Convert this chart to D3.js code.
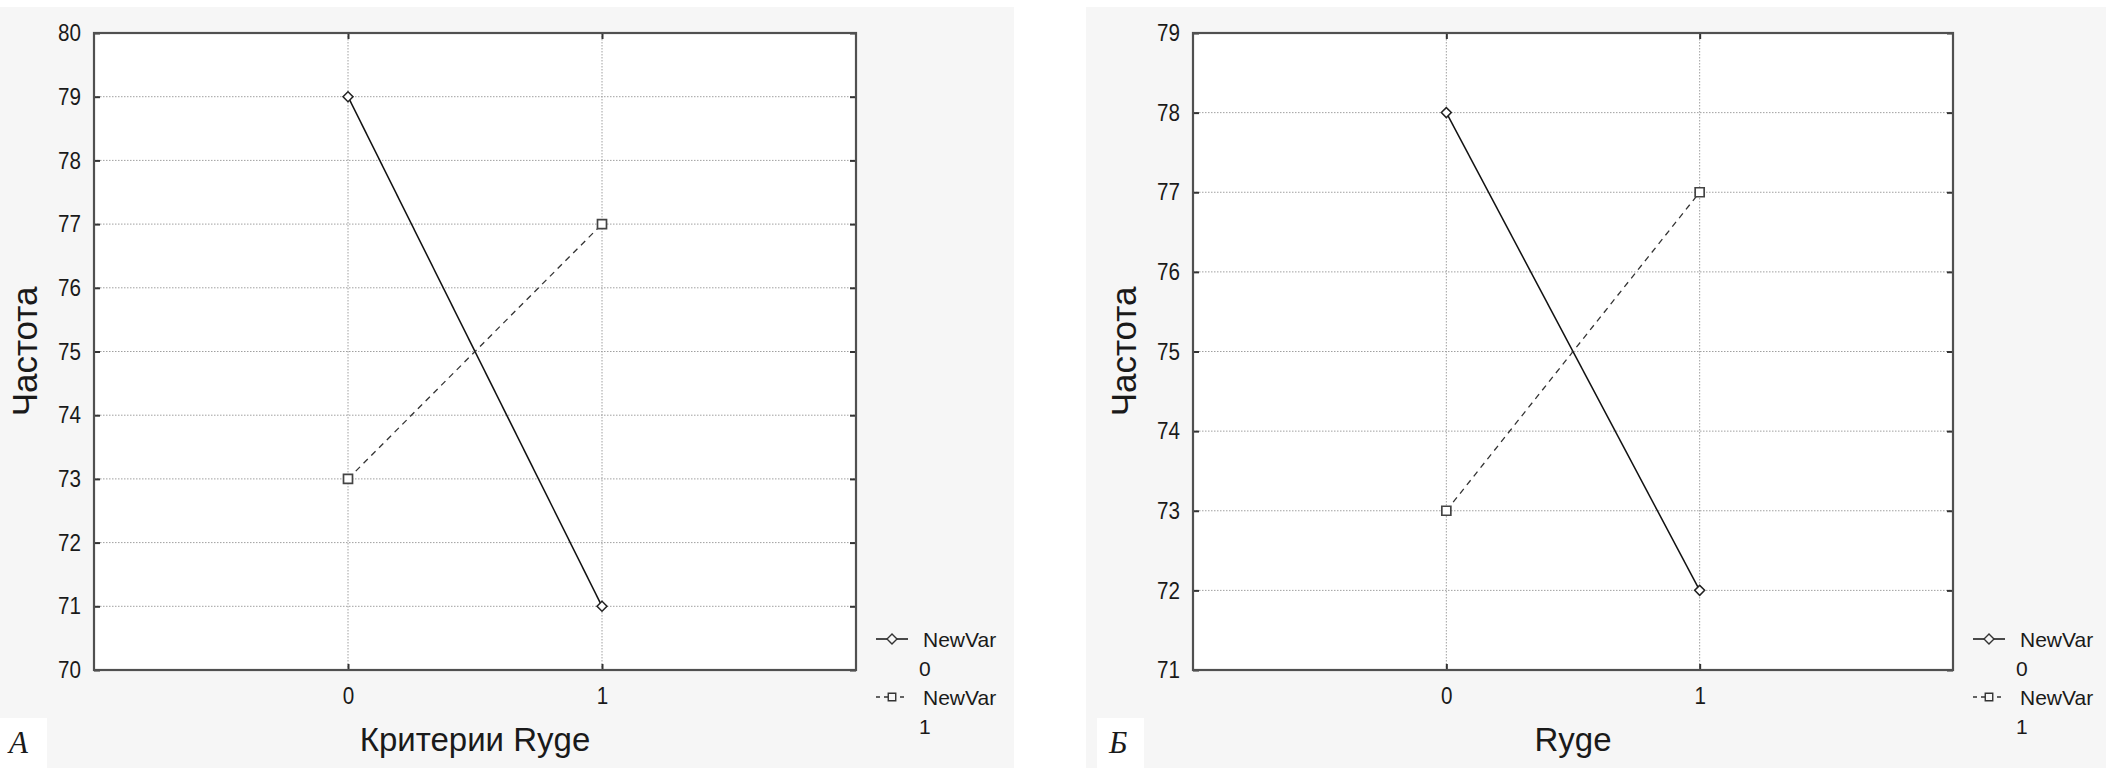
<!DOCTYPE html>
<html>
<head>
<meta charset="utf-8">
<script src="https://cdn.jsdelivr.net/npm/d3@7"></script>
<style>
  html, body { margin: 0; padding: 0; background: #ffffff; }
  svg { display: block; }
  text { font-family: "Liberation Sans", Arial, sans-serif; fill: #1a1a1a; }
</style>
</head>
<body>
<svg id="chart" width="2106" height="768"></svg>
<script>
// ---- data ----
const categories = [0, 1];
const seriesNames = ["NewVar\n0", "NewVar\n1"];
const panelA_newVar0 = [79, 71];
const panelA_newVar1 = [73, 77];
const panelB_newVar0 = [78, 72];
const panelB_newVar1 = [73, 77];
const panelA_yTicks = [70, 71, 72, 73, 74, 75, 76, 77, 78, 79, 80];
const panelB_yTicks = [71, 72, 73, 74, 75, 76, 77, 78, 79];
const xTicks = [0, 1];
const panelLabels = ["А", "Б"];
const xTitles = ["Критерии Ryge", "Ryge"];
const yTitle = "Частота";

const svg = d3.select("#chart");

function drawPanel(cfg) {
  const g = svg.append("g");
  g.append("rect").attr("x", cfg.bgX).attr("y", 7).attr("width", cfg.bgW).attr("height", 761)
    .attr("fill", "#f6f6f6");

  const x = d3.scaleLinear().domain([-1, 2]).range([cfg.left, cfg.right]);
  const y = d3.scaleLinear().domain(cfg.yDomain).range([cfg.bottom, cfg.top]);

  g.append("rect").attr("x", cfg.left).attr("y", cfg.top)
    .attr("width", cfg.right - cfg.left).attr("height", cfg.bottom - cfg.top)
    .attr("fill", "#ffffff");

  const inner = cfg.yTicks.filter(v => v > cfg.yDomain[0] && v < cfg.yDomain[1]);
  g.selectAll(".hg").data(inner).enter().append("line")
    .attr("x1", cfg.left).attr("x2", cfg.right)
    .attr("y1", d => y(d)).attr("y2", d => y(d))
    .attr("stroke", "#a0a0a0").attr("stroke-width", 1).attr("stroke-dasharray", "1.5,1.5");
  g.selectAll(".vg").data(xTicks).enter().append("line")
    .attr("x1", d => x(d)).attr("x2", d => x(d))
    .attr("y1", cfg.top).attr("y2", cfg.bottom)
    .attr("stroke", "#a0a0a0").attr("stroke-width", 1).attr("stroke-dasharray", "1.5,1.5");

  const yL = g.append("g").attr("transform", `translate(${cfg.left},0)`)
    .call(d3.axisLeft(y).tickValues(cfg.yTicks).tickFormat(d3.format("d")).tickSizeInner(-6).tickSizeOuter(0).tickPadding(13));
  const yR = g.append("g").attr("transform", `translate(${cfg.right},0)`)
    .call(d3.axisRight(y).tickValues(cfg.yTicks).tickFormat("").tickSizeInner(-6).tickSizeOuter(0));
  const xB = g.append("g").attr("transform", `translate(0,${cfg.bottom})`)
    .call(d3.axisBottom(x).tickValues(xTicks).tickFormat(d3.format("d")).tickSizeInner(-6).tickSizeOuter(0).tickPadding(17));
  const xT = g.append("g").attr("transform", `translate(0,${cfg.top})`)
    .call(d3.axisTop(x).tickValues(xTicks).tickFormat("").tickSizeInner(-6).tickSizeOuter(0));
  [yL, yR, xB, xT].forEach(a => {
    a.select(".domain").remove();
    a.selectAll(".tick line").attr("stroke", "#333").attr("stroke-width", 2);
  });
  yL.selectAll(".tick text").each(function() {
    const t = d3.select(this);
    const xx = +t.attr("x");
    t.attr("x", 0).attr("transform", `translate(${xx},0) scale(0.86,1)`)
      .style("font-size", "24px").attr("fill", "#1a1a1a");
  });
  xB.selectAll(".tick text").each(function() {
    const t = d3.select(this);
    const yy = +t.attr("y");
    t.attr("y", 0).attr("dy", "0.7em").attr("transform", `translate(0,${yy}) scale(0.86,1)`)
      .style("font-size", "24px").attr("fill", "#1a1a1a");
  });
  [yL, xB].forEach(a => a.attr("font-family", null).attr("font-size", null));

  g.append("rect").attr("x", cfg.left).attr("y", cfg.top)
    .attr("width", cfg.right - cfg.left).attr("height", cfg.bottom - cfg.top)
    .attr("fill", "none").attr("stroke", "#505050").attr("stroke-width", 2.2);

  const line = d3.line().x((d, i) => x(categories[i])).y(d => y(d));
  g.append("path").datum(cfg.s0).attr("d", line).attr("fill", "none")
    .attr("stroke", "#111").attr("stroke-width", 1.5);
  g.append("path").datum(cfg.s1).attr("d", line).attr("fill", "none")
    .attr("stroke", "#333").attr("stroke-width", 1.3).attr("stroke-dasharray", "6,5");

  const diamond = d3.symbol().type(d3.symbolSquare).size(50);
  const square = d3.symbol().type(d3.symbolSquare).size(81);
  g.selectAll(".m0").data(cfg.s0).enter().append("path")
    .attr("d", diamond)
    .attr("transform", (d, i) => `translate(${x(categories[i])},${y(d)}) rotate(45)`)
    .attr("fill", "#fff").attr("stroke", "#222").attr("stroke-width", 1.5);
  g.selectAll(".m1").data(cfg.s1).enter().append("path")
    .attr("d", square)
    .attr("transform", (d, i) => `translate(${x(categories[i])},${y(d)})`)
    .attr("fill", "#fff").attr("stroke", "#444").attr("stroke-width", 1.7);

  g.append("text").attr("x", (cfg.left + cfg.right) / 2).attr("y", 751)
    .attr("text-anchor", "middle").style("font-size", "33px").text(cfg.xTitle);
  g.append("text").attr("transform", `translate(${cfg.left - 57},${(cfg.top + cfg.bottom) / 2}) rotate(-90)`)
    .attr("text-anchor", "middle").style("font-size", "35px").text(yTitle);

  const lx = cfg.legendX;
  const rows = [639, 697];
  seriesNames.forEach((name, i) => {
    const parts = name.split("\n");
    const ry = rows[i];
    g.append("line").attr("x1", lx).attr("x2", lx + 32).attr("y1", ry).attr("y2", ry)
      .attr("stroke", i === 0 ? "#111" : "#333").attr("stroke-width", 1.5)
      .attr("stroke-dasharray", i === 0 ? null : "4,4");
    g.append("path").attr("d", i === 0 ? diamond : d3.symbol().type(d3.symbolSquare).size(56))
      .attr("transform", `translate(${lx + 16},${ry})` + (i === 0 ? " rotate(45)" : ""))
      .attr("fill", "#f6f6f6").attr("stroke", "#333").attr("stroke-width", 1.4);
    g.append("text").attr("x", lx + 47).attr("y", ry + 8).style("font-size", "21px").text(parts[0]);
    g.append("text").attr("x", lx + 43).attr("y", ry + 37).style("font-size", "21px").text(parts[1]);
  });

  g.append("rect").attr("x", cfg.labelBox[0]).attr("y", 718).attr("width", 47).attr("height", 50)
    .attr("fill", "#ffffff");
  g.append("text").attr("x", cfg.labelBox[0] + cfg.labelBox[1]).attr("y", 753)
    .style("font-family", "'Liberation Serif', 'Times New Roman', serif")
    .style("font-style", "italic").style("font-size", "31px").attr("fill", "#111")
    .text(cfg.label);
}

drawPanel({
  bgX: 0, bgW: 1014, left: 94, right: 856, top: 33, bottom: 670,
  yDomain: [70, 80], yTicks: panelA_yTicks, s0: panelA_newVar0, s1: panelA_newVar1,
  xTitle: xTitles[0], legendX: 876, labelBox: [0, 9], label: panelLabels[0]
});
drawPanel({
  bgX: 1086, bgW: 1020, left: 1193, right: 1953, top: 33, bottom: 670,
  yDomain: [71, 79], yTicks: panelB_yTicks, s0: panelB_newVar0, s1: panelB_newVar1,
  xTitle: xTitles[1], legendX: 1973, labelBox: [1097, 12], label: panelLabels[1]
});
</script>
</body>
</html>
